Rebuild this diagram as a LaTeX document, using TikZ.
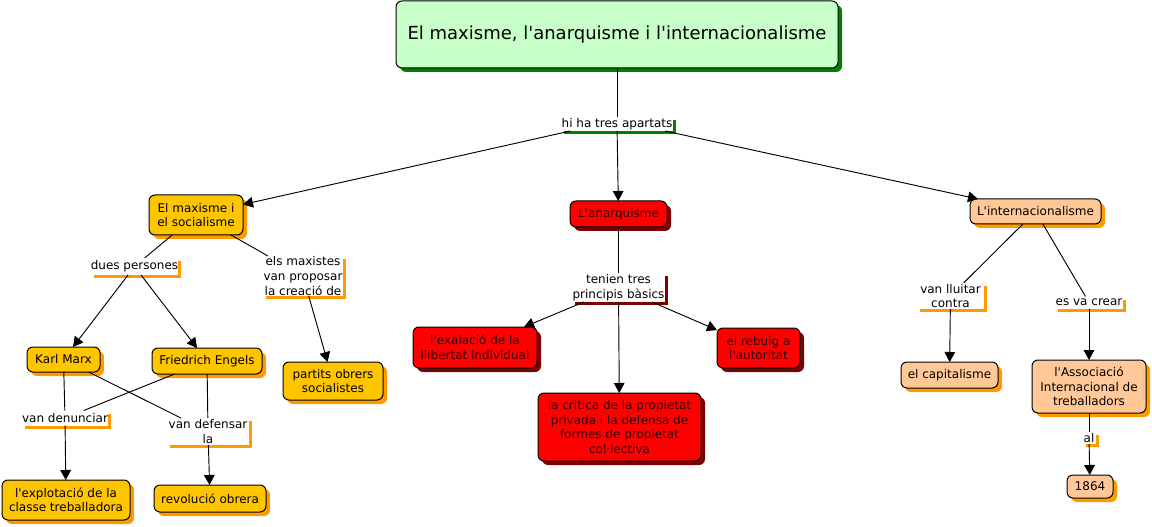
\documentclass[tikz,border=0pt]{standalone}
\usepackage{fontspec}
\setmainfont{DejaVu Sans}
\usetikzlibrary{arrows.meta,shadows}
\definecolor{gfill}{HTML}{C8FFC8}
\definecolor{gshad}{HTML}{007F00}
\definecolor{ofill}{HTML}{FFC600}
\definecolor{oshad}{HTML}{FF9A00}
\definecolor{rfill}{HTML}{FF0000}
\definecolor{rshad}{HTML}{7F0000}
\definecolor{rtext}{HTML}{300000}
\definecolor{pfill}{HTML}{FFC896}
\newcommand{\nf}{\fontsize{9}{10.9}\selectfont}
\newcommand{\q}{\textquotesingle}
\tikzset{
  every node/.style={inner sep=0pt, outer sep=0pt, align=center, font=\nf},
  concept/.style={draw=black, line width=0.75pt, rounded corners=4.5pt},
  cshad/.style={drop shadow={shadow xshift=3pt, shadow yshift=-3pt, opacity=1, fill=#1}},
  lshad/.style={fill=white, drop shadow={shadow xshift=2.25pt, shadow yshift=-2.25pt, opacity=1, fill=#1}},
  ocon/.style={concept, fill=ofill, cshad=oshad},
  rcon/.style={concept, fill=rfill, cshad=rshad, text=rtext},
  pcon/.style={concept, fill=pfill, cshad=oshad},
  olab/.style={lshad=oshad},
  rlab/.style={lshad=rshad},
  glab/.style={lshad=gshad},
  sz/.style 2 args={minimum width=#1, minimum height=#2},
  link/.style={line width=0.7pt, draw=black},
  arr/.style={link, -{Triangle[length=7.5pt,width=8pt]}}
}
\begin{document}
\begin{tikzpicture}[x=0.75pt, y=-0.75pt]
\useasboundingbox[fill=white] (0,0) rectangle (1152,527);
% title
\node[concept, fill=gfill, cshad=gshad, sz={331.5pt}{50.25pt}, font=\fontsize{13.5}{16}\selectfont] (title) at (617,34.5) {El maxisme, l\q anarquisme i l\q internacionalisme};
\node[glab, sz={84pt}{10.5pt}] (hi) at (617,124) {hi ha tres apartats};
% left branch
\node[ocon, sz={70.5pt}{30pt}] (max) at (196,215) {El maxisme i\\el socialisme};
\node[olab, sz={65.25pt}{12.75pt}] (dues) at (134.5,266.5) {dues persones};
\node[olab, sz={60pt}{30pt}] (els) at (303,276) {els maxistes\\van proposar\\la creació de};
\node[ocon, sz={54.75pt}{18.75pt}] (marx) at (63.5,359.5) {Karl Marx};
\node[ocon, sz={82.5pt}{19.5pt}] (engels) at (207,361) {Friedrich Engels};
\node[ocon, sz={75pt}{28.5pt}] (partits) at (333,381) {partits obrers\\socialistes};
\node[olab, sz={64.5pt}{11.25pt}] (denun) at (65,418) {van denunciar};
\node[olab, sz={61.5pt}{20.25pt}] (defen) at (208,431.5) {van defensar\\la};
\node[ocon, sz={96pt}{30pt}] (explo) at (66,500) {l\q explotació de la\\classe treballadora};
\node[ocon, sz={84pt}{20.25pt}] (revol) at (210,498.5) {revolució obrera};
% middle branch
\node[rcon, sz={72.75pt}{19.5pt}] (anar) at (618.5,214) {L\q anarquisme};
\node[rlab, sz={69.75pt}{21.75pt}] (tenien) at (618.5,287.5) {tenien tres\\principis bàsics};
\node[rcon, sz={93pt}{30.75pt}] (exal) at (475,347.5) {l\q exalació de la\\llibertat individual};
\node[rcon, sz={62.25pt}{30pt}] (rebuig) at (758.5,348) {el rebuig a\\l\q autoritat};
\node[rcon, sz={122.25pt}{51pt}] (critica) at (619.5,427) {la critica de la propietat\\privada i la defensa de\\formes de propietat\\col·lectiva};
% right branch
\node[pcon, sz={98.25pt}{18.75pt}] (inter) at (1035.5,211.5) {L\q internacionalisme};
\node[olab, sz={50.25pt}{19.5pt}] (lluitar) at (950.5,296) {van lluitar\\contra};
\node[olab, sz={51pt}{9pt}] (crear) at (1089,302.5) {es va crear};
\node[pcon, sz={72.75pt}{19.5pt}] (capit) at (949.5,375) {el capitalisme};
\node[pcon, sz={85.5pt}{39.75pt}] (assoc) at (1089,386.5) {l\q Associació\\Internacional de\\treballadors};
\node[olab, sz={9.75pt}{9pt}] (al) at (1089,438) {al};
\node[pcon, sz={34.5pt}{17.25pt}] (any) at (1090,486.5) {1864};
% connectors
\draw[link] (title) -- (hi);
\draw[arr] ([xshift=-35pt]hi.south) -- (max);
\draw[arr] (hi) -- (anar);
\draw[arr] ([xshift=36pt]hi.south) -- (inter);
\draw[link] (max) -- (dues);
\draw[link] (max) -- (els);
\draw[arr] (dues) -- (marx);
\draw[arr] (dues) -- (engels);
\draw[arr] (els) -- (partits);
\draw[link] (marx) -- (denun);
\draw[link] (marx) -- (defen);
\draw[link] (engels) -- (denun);
\draw[link] (engels) -- (defen);
\draw[arr] (denun) -- (explo);
\draw[arr] (defen) -- (revol);
\draw[link] (anar) -- (tenien);
\draw[arr] (tenien) -- (exal);
\draw[arr] (tenien) -- (critica);
\draw[arr] (tenien) -- (rebuig);
\draw[link] (inter) -- (lluitar);
\draw[link] (inter) -- (crear);
\draw[arr] (lluitar) -- (capit);
\draw[arr] (crear) -- (assoc);
\draw[link] (assoc) -- (al);
\draw[arr] (al) -- (any);
\end{tikzpicture}
\end{document}
